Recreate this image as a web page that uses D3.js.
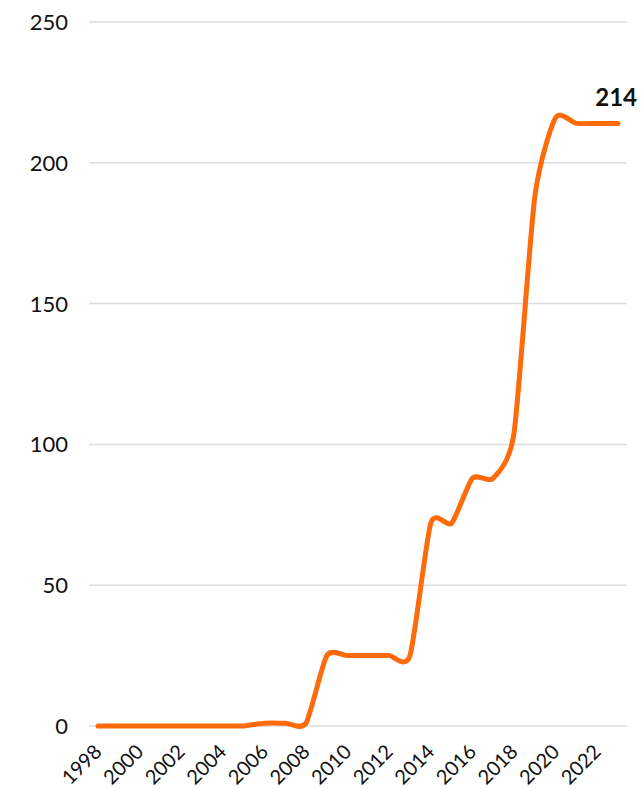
<!DOCTYPE html>
<html>
<head>
<meta charset="utf-8">
<script src="https://cdn.jsdelivr.net/npm/d3@7"></script>
<style>
  html, body { margin: 0; padding: 0; background: #fff; }
  svg { display: block; font-family: Lato, "Open Sans", sans-serif; }
</style>
</head>
<body>
<svg id="chart" width="643" height="790"></svg>
<script>
const years = [1998,1999,2000,2001,2002,2003,2004,2005,2006,2007,2008,2009,2010,2011,2012,2013,2014,2015,2016,2017,2018,2019,2020,2021,2022,2023];
const values = [0,0,0,0,0,0,0,0,1,1,1,25,25,25,25,25,72,72,88,88,104,188,216,214,214,214];
const yTicks = [0,50,100,150,200,250];
const xTickLabels = [1998,2000,2002,2004,2006,2008,2010,2012,2014,2016,2018,2020,2022];
const endLabel = "214";

const svg = d3.select("#chart");
const x = d3.scaleLinear().domain([1998, 2023]).range([98, 618]);
const y = d3.scaleLinear().domain([0, 250]).range([726, 22]);
const gridLeft = 89, gridRight = 627;

// gridlines
svg.append("g").selectAll("line").data(yTicks).join("line")
  .attr("x1", gridLeft).attr("x2", gridRight)
  .attr("y1", d => y(d)).attr("y2", d => y(d))
  .attr("stroke", "#dcdcdc").attr("stroke-width", 1.5);

// y labels
svg.append("g").selectAll("text").data(yTicks).join("text")
  .attr("x", 68).attr("y", d => y(d))
  .attr("dy", "0.36em")
  .attr("text-anchor", "end")
  .attr("font-size", 22)
  .attr("fill", "#111")
  .text(d => d);

// x labels
svg.append("g").selectAll("text").data(xTickLabels).join("text")
  .attr("text-anchor", "end")
  .attr("font-size", 20)
  .attr("fill", "#111")
  .attr("transform", d => `translate(${x(d) + 5},753) rotate(-45)`)
  .text(d => d);

// line
const line = d3.line()
  .x((d, i) => x(years[i]))
  .y(d => y(d))
  .curve(d3.curveCardinal.tension(0.35));

svg.append("path")
  .datum(values)
  .attr("d", line)
  .attr("fill", "none")
  .attr("stroke", "#ff6a0a")
  .attr("stroke-width", 5)
  .attr("stroke-linecap", "round")
  .attr("stroke-linejoin", "round");

// end label
svg.append("text")
  .attr("x", 637).attr("y", 106)
  .attr("text-anchor", "end")
  .attr("font-size", 24)
  .attr("font-weight", "bold")
  .attr("fill", "#111")
  .text(endLabel);
</script>
</body>
</html>
